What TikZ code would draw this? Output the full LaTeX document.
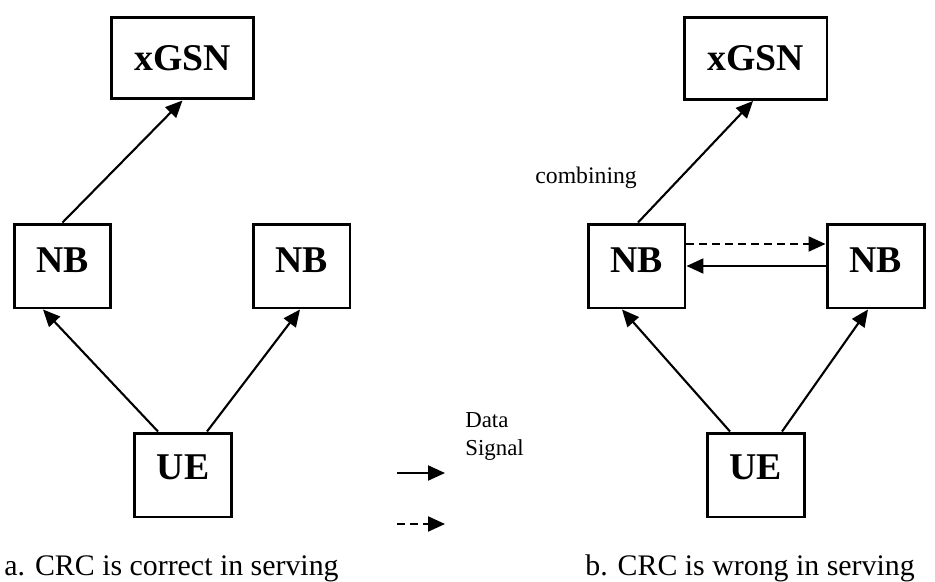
\documentclass[tikz,border=0pt]{standalone}
\usepackage{fontspec}
\setmainfont{Liberation Serif}
\usetikzlibrary{arrows.meta,calc}
\begin{document}
\begin{tikzpicture}[x=0.02cm,y=-0.02cm,>={Triangle[length=0.34cm,width=0.3cm]}]
        \tikzstyle{unit}=[rectangle,draw=black,line width=1.7pt,inner sep=0pt,minimum width=1.94cm,minimum height=1.68cm,font=\bfseries\fontsize{21.5}{24}\selectfont,text height=0.5cm,text depth=0.26cm]
        \tikzstyle{ue}=[unit,text depth=0.34cm]
        \tikzstyle{core}=[unit,minimum width=2.86cm,minimum height=1.64cm,text depth=0cm]
        \tikzstyle{edge}=[draw,line width=1.2pt,->]
        \tikzstyle{dashedge}=[edge,dash pattern=on 0.15cm off 0.11cm]
        \tikzstyle{caption}=[anchor=base west,inner sep=0pt,font=\fontsize{17}{21}\selectfont]
        \useasboundingbox (0,0) rectangle (935,581);
       \begin{scope}
         \node [core] (gsnA) at (182.5,58) {xGSN};
         \node [unit] (nbA1) at (62.5,266) {NB};
         \node [unit] (nbA2) at (301.5,266) {NB};
         \node [ue] (ueA) at (183,475) {UE};
         \draw[edge] (nbA1.north) -- (gsnA.south);
         \draw[edge] ($(ueA.north)+(-25,0)$) -- ($(nbA1.south)+(-19.5,0)$);
         \draw[edge] ($(ueA.north)+(24,0)$) -- ($(nbA2.south)+(-1.5,0)$);
         \node [caption] (capA) at (4,575) {a. CRC is correct in serving};
        \end{scope}
       \begin{scope}
         \node [core] (gsnB) at (755.5,58.5) {xGSN};
         \node [unit] (nbB1) at (636.5,266) {NB};
         \node [unit] (nbB2) at (875.5,266) {NB};
         \node [ue] (ueB) at (755.5,475) {UE};
         \draw[edge] ($(nbB1.north)+(1.5,0)$) -- ($(gsnB.south)+(-2.5,0)$);
         \draw[edge] ($(ueB.north)+(-25.5,0)$) -- ($(nbB1.south)+(-14.5,0)$);
         \draw[edge] ($(ueB.north)+(26.5,0)$) -- ($(nbB2.south)+(-7.5,0)$);
         \draw[dashedge] ($(nbB1.east)+(0,-22)$) -- ($(nbB2.west)+(0,-22)$);
         \draw[edge] (nbB2.west) -- (nbB1.east);
         \node [anchor=base west,inner sep=0pt,font=\fontsize{13.5}{16}\selectfont] (comb) at (535,183) {combining};
         \node [caption] (capB) at (585,575) {b. CRC is wrong in serving};
        \end{scope}
       \begin{scope}
         \coordinate (keyA) at (397,473);
         \coordinate (keyB) at (445,473);
         \coordinate (keyC) at (397,524);
         \coordinate (keyD) at (445,524);
         \draw[edge] (keyA) -- (keyB);
         \draw[dashedge] (keyC) -- (keyD);
         \node [anchor=base west,inner sep=0pt,align=left,font=\fontsize{13}{15.9}\selectfont] (key) at (465,455) {Data\\Signal};
        \end{scope}
      \end{tikzpicture}
\end{document}
